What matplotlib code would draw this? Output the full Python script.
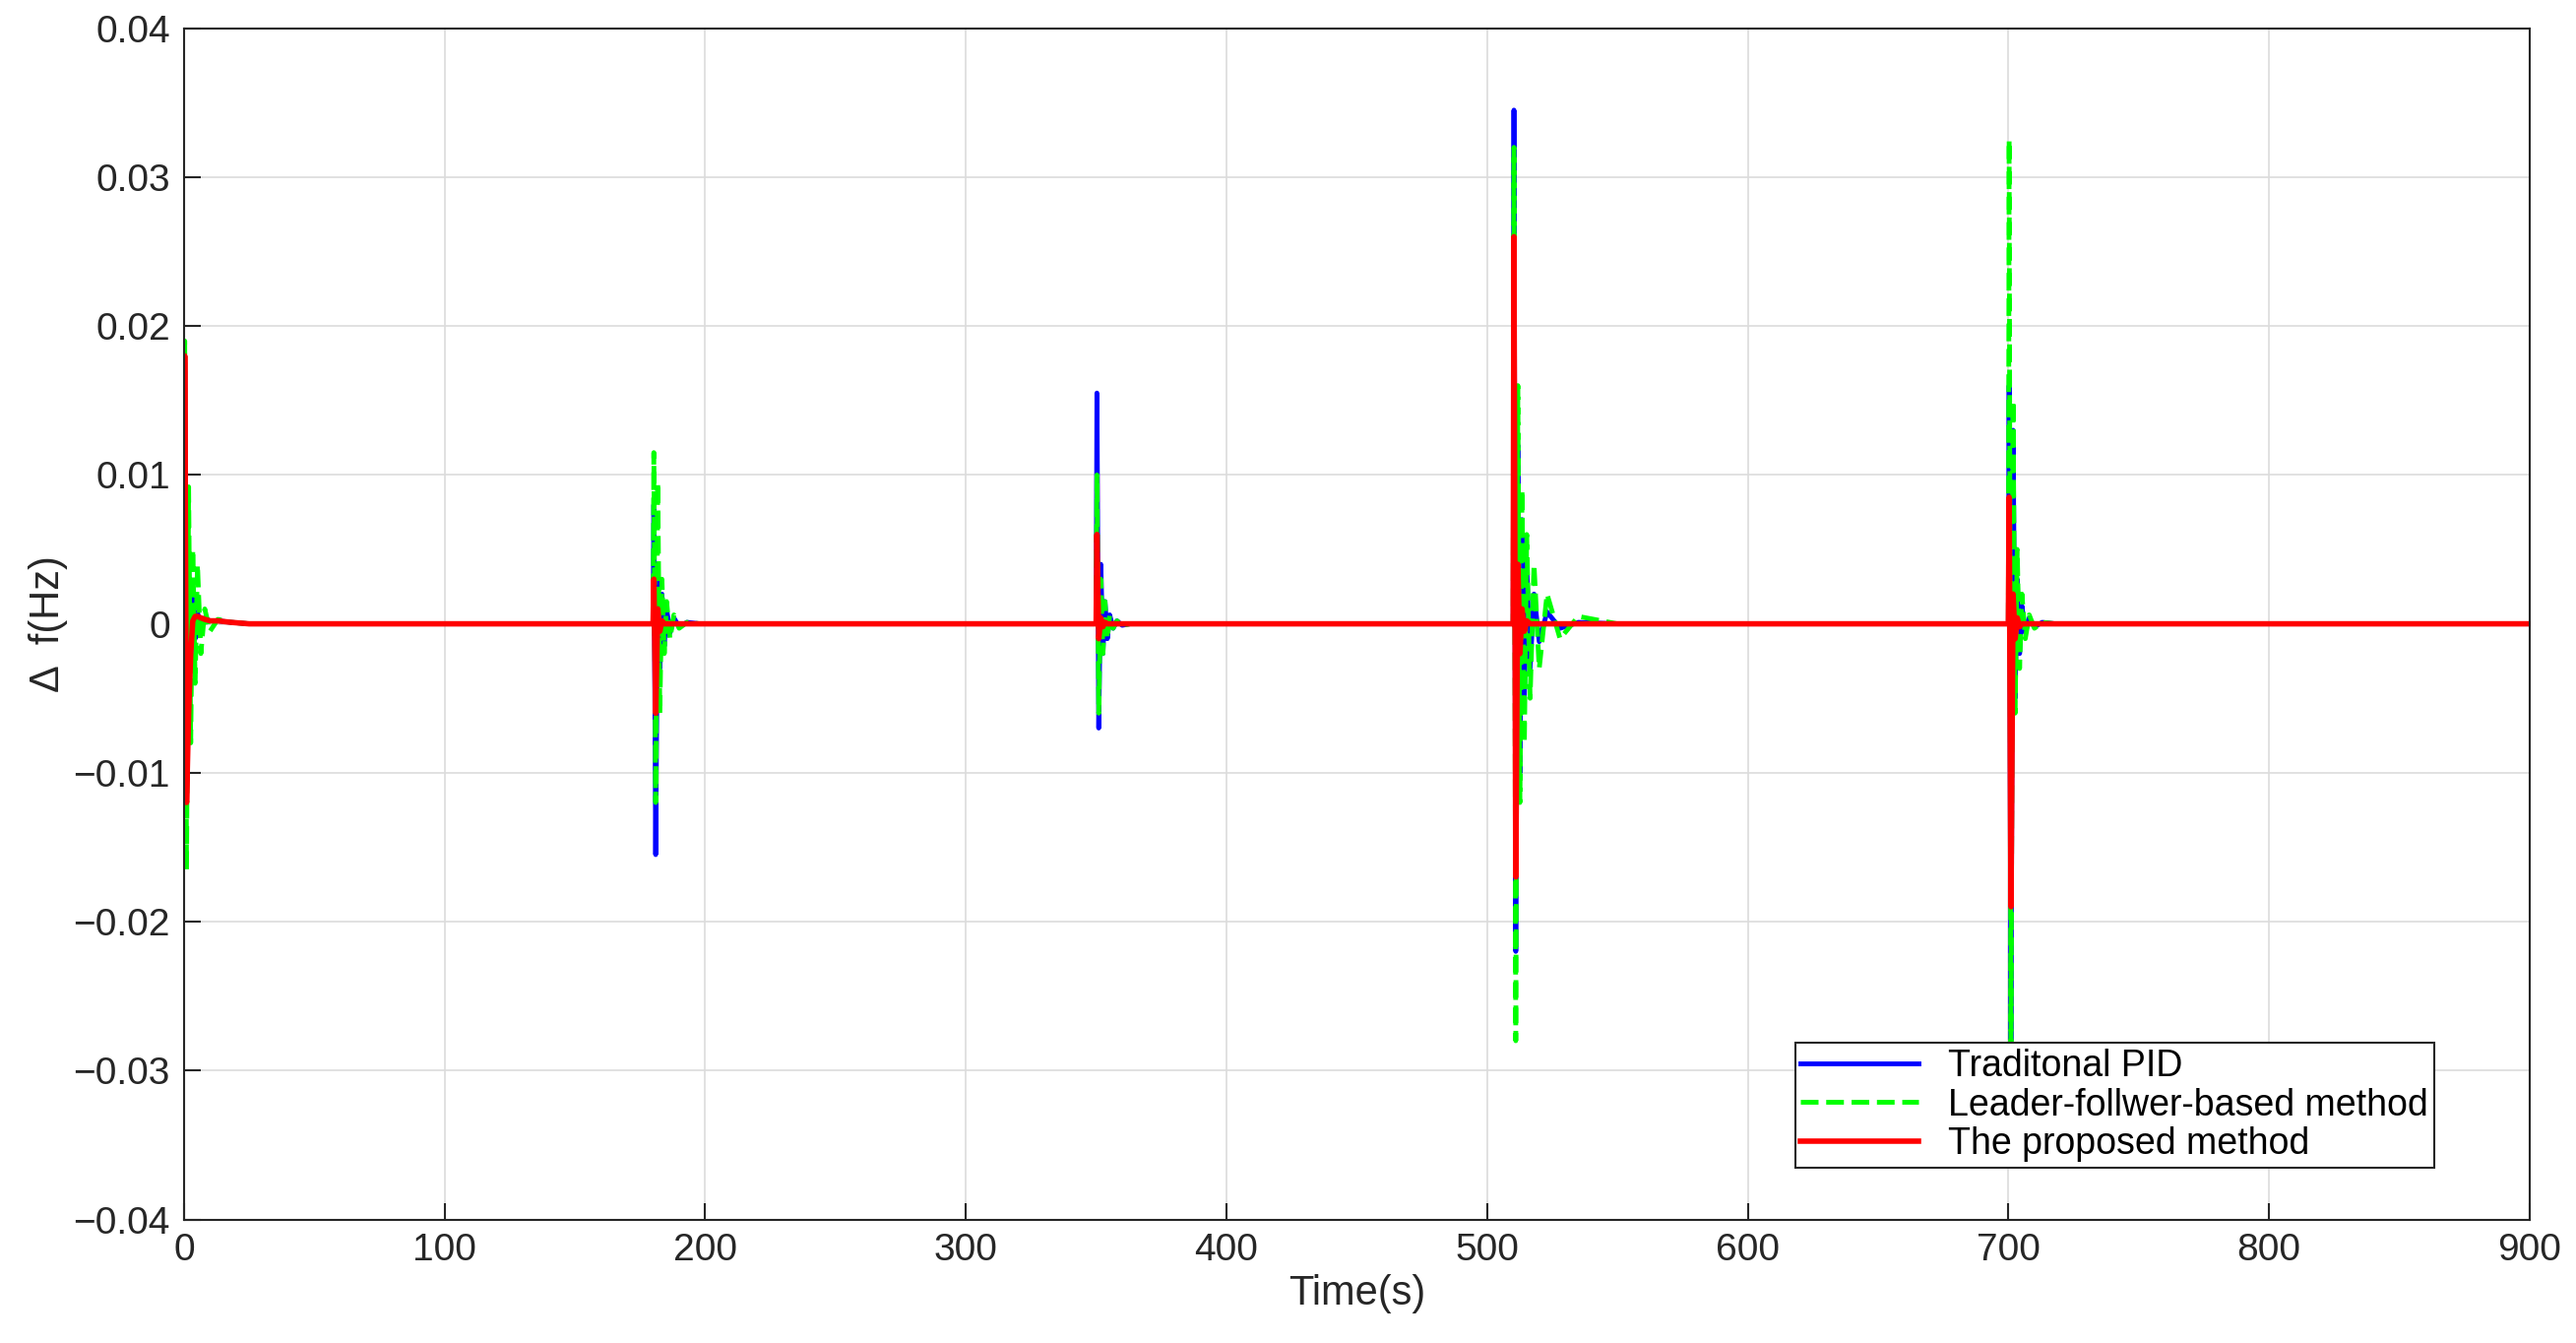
import numpy as np
import matplotlib.pyplot as plt

plt.rcParams['font.family'] = ['Liberation Sans', 'DejaVu Sans']

# disturbance instants (s)
events = [0, 180, 350, 510, 700]

# time offsets (s) after each event for the oscillation extremes
offsets = [0.0, 0.3, 1.0, 1.8, 2.6, 3.4, 4.3, 5.2, 6.5, 8.0, 10.0, 13.0, 18.0, 25.0, 40.0]

# extremes, one row per event
pid = [
    [0, 0.017, -0.011, 0.004, -0.003, 0.002, -0.001, 0.0008, -0.0004, 0.0004, 0.0002, 0.0002, 0.0001, 0.0, 0],
    [0, 0.008, -0.0155, 0.003, -0.003, 0.002, -0.0015, 0.001, -0.0006, 0.0004, -0.0002, 0.0001, 0.0, 0.0, 0],
    [0, 0.0155, -0.007, 0.004, -0.002, 0.0015, -0.001, 0.0006, -0.0003, 0.0002, -0.0001, 0.0, 0.0, 0.0, 0],
    [0, 0.0345, -0.022, 0.012, -0.010, 0.007, -0.005, 0.004, -0.003, 0.002, -0.0012, 0.0008, -0.0003, 0.0001, 0],
    [0, 0.016, -0.028, 0.013, -0.005, 0.003, -0.002, 0.0012, -0.0006, 0.0004, -0.0002, 0.0001, 0.0, 0.0, 0],
]
leader = [
    [0, 0.019, -0.0165, 0.0092, -0.008, 0.005, -0.004, 0.004, -0.002, 0.001, -0.0005, 0.0003, 0.0001, 0.0, 0],
    [0, 0.0115, -0.012, 0.0095, -0.006, 0.003, -0.002, 0.0015, -0.001, 0.0006, -0.0003, 0.0001, 0.0, 0.0, 0],
    [0, 0.010, -0.006, 0.003, -0.002, 0.0015, -0.001, 0.0006, -0.0003, 0.0002, -0.0001, 0.0, 0.0, 0.0, 0],
    [0, 0.032, -0.028, 0.016, -0.012, 0.009, -0.008, 0.006, -0.005, 0.004, -0.003, 0.002, -0.001, 0.0005, 0],
    [0, 0.0325, -0.029, 0.015, -0.006, 0.005, -0.003, 0.002, -0.001, 0.0006, -0.0003, 0.0001, 0.0, 0.0, 0],
]
proposed = [
    [0, 0.018, -0.012, -0.006, -0.002, 0.0002, 0.0005, 0.0005, 0.0004, 0.0003, 0.0002, 0.0002, 0.0001, 0.0, 0],
    [0, 0.003, -0.006, 0.001, -0.0005, 0.0002, 0.0, 0.0, 0.0, 0.0, 0.0, 0.0, 0.0, 0.0, 0],
    [0, 0.006, -0.001, 0.0004, -0.0002, 0.0001, 0.0, 0.0, 0.0, 0.0, 0.0, 0.0, 0.0, 0.0, 0],
    [0, 0.026, -0.017, 0.004, -0.002, 0.001, -0.0005, 0.0002, 0.0, 0.0, 0.0, 0.0, 0.0, 0.0, 0],
    [0, 0.0085, -0.019, 0.002, -0.001, 0.0004, -0.0002, 0.0, 0.0, 0.0, 0.0, 0.0, 0.0, 0.0, 0],
]


def build(rows):
    t, y = [0.0], [0.0]
    for ev, row in zip(events, rows):
        t += [ev + o for o in offsets]
        y += row
    t.append(900.0)
    y.append(0.0)
    return t, y


fig = plt.figure(figsize=(26.17, 13.64), dpi=100)
ax = fig.add_axes([0.0714, 0.092, 0.9106, 0.887])

t, y = build(pid)
ax.plot(t, y, color='#0000ff', lw=3.5, label='Traditonal PID')
t, y = build(leader)
ax.plot(t, y, color='#00ff00', lw=3.5, ls='--', label='Leader-follwer-based method')
t, y = build(proposed)
ax.plot(t, y, color='#ff0000', lw=4, label='The proposed method')

ax.set_xlim(0, 900)
ax.set_ylim(-0.04, 0.04)
ax.set_xticks(np.arange(0, 901, 100))
ax.set_yticks(np.arange(-0.04, 0.041, 0.01))
ax.set_yticklabels(['\u22120.04', '\u22120.03', '\u22120.02', '\u22120.01', '0',
                    '0.01', '0.02', '0.03', '0.04'])
ax.grid(True, color='#dcdcdc', lw=1.2)
ax.tick_params(direction='in', length=12, width=1.5, labelsize=28, colors='#262626', pad=10)
for s in ax.spines.values():
    s.set_color('#262626')
    s.set_linewidth(1.5)
ax.set_xlabel('Time(s)', fontsize=30, color='#262626')
ax.set_ylabel('\u0394  f(Hz)', fontsize=30, color='#262626')

leg = ax.legend(loc='lower right', fontsize=27, fancybox=False, framealpha=1,
                edgecolor='#262626', borderpad=0.15, labelspacing=0.1,
                handlelength=3.2, bbox_to_anchor=(0.967, 0.028))
leg.get_frame().set_linewidth(1.5)

fig.savefig('out.png', dpi=100)
